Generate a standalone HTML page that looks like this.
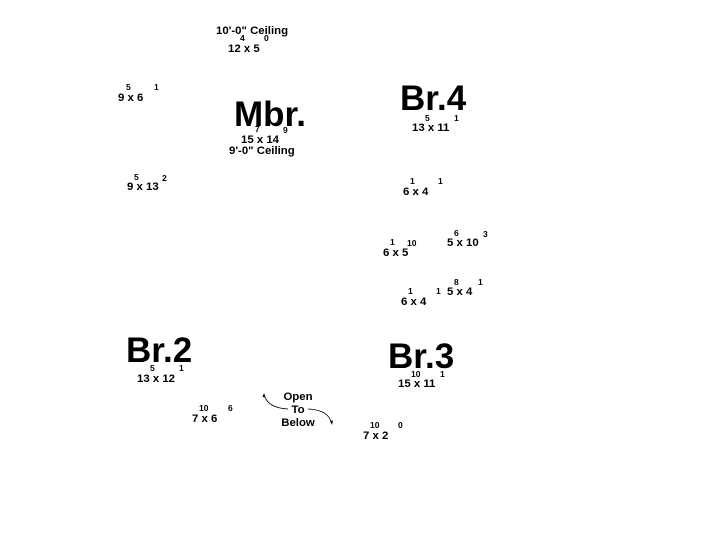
<!DOCTYPE html>
<html><head><meta charset="utf-8"><style>
html,body{margin:0;padding:0;background:#fff;}
svg{display:block}
text{font-family:"Liberation Sans",Arial,sans-serif;font-weight:bold;fill:#000}
.t{font-size:11.4px}
.s{font-size:8.5px}
.b{font-size:35px}
</style></head><body>
<svg width="703" height="547" viewBox="0 0 703 547">
<text class="t" x="216" y="34">10'-0" Ceiling</text>
<text class="t" x="228" y="52">12 x 5</text><text class="s" x="240" y="41">4</text><text class="s" x="264" y="41">0</text>

<text class="t" x="118" y="101">9 x 6</text><text class="s" x="126" y="90">5</text><text class="s" x="154" y="90">1</text>

<text class="b" x="234" y="126">Mbr.</text>
<text class="t" x="241" y="143">15 x 14</text><text class="s" x="255" y="132">7</text><text class="s" x="283" y="133">9</text>
<text class="t" x="229" y="154">9'-0" Ceiling</text>

<text class="t" x="127" y="190">9 x 13</text><text class="s" x="134" y="180">5</text><text class="s" x="162" y="181">2</text>

<text class="b" x="400" y="110">Br.4</text>
<text class="t" x="412" y="131">13 x 11</text><text class="s" x="425" y="121">5</text><text class="s" x="454" y="121">1</text>

<text class="t" x="403" y="195">6 x 4</text><text class="s" x="410" y="184">1</text><text class="s" x="438" y="184">1</text>

<text class="t" x="383" y="256">6 x 5</text><text class="s" x="390" y="245">1</text><text class="s" x="407" y="246">10</text>
<text class="t" x="447" y="246">5 x 10</text><text class="s" x="454" y="236">6</text><text class="s" x="483" y="237">3</text>

<text class="t" x="447" y="295">5 x 4</text><text class="s" x="454" y="285">8</text><text class="s" x="478" y="285">1</text>
<text class="t" x="401" y="305">6 x 4</text><text class="s" x="408" y="294">1</text><text class="s" x="436" y="294">1</text>

<text class="b" x="126" y="362">Br.2</text>
<text class="t" x="137" y="382">13 x 12</text><text class="s" x="150" y="371">5</text><text class="s" x="179" y="371">1</text>

<text class="b" x="388" y="368">Br.3</text>
<text class="t" x="398" y="387">15 x 11</text><text class="s" x="411" y="377">10</text><text class="s" x="440" y="377">1</text>

<text class="t" x="192" y="422">7 x 6</text><text class="s" x="199" y="411">10</text><text class="s" x="228" y="411">6</text>

<text class="t" x="298" y="400" text-anchor="middle">Open</text>
<text class="t" x="298" y="413" text-anchor="middle">To</text>
<text class="t" x="298" y="426" text-anchor="middle">Below</text>
<path d="M264,395 Q268,408 288,409" fill="none" stroke="#000" stroke-width="0.8"/>
<path d="M264,393 l-1.5,4 l3,0 z" fill="#000"/>
<path d="M308,409 Q328,410 331,422" fill="none" stroke="#000" stroke-width="0.8"/>
<path d="M332,425 l-2,-4 l3,-0.5 z" fill="#000"/>

<text class="t" x="363" y="439">7 x 2</text><text class="s" x="370" y="428">10</text><text class="s" x="398" y="428">0</text>
</svg>
</body></html>
